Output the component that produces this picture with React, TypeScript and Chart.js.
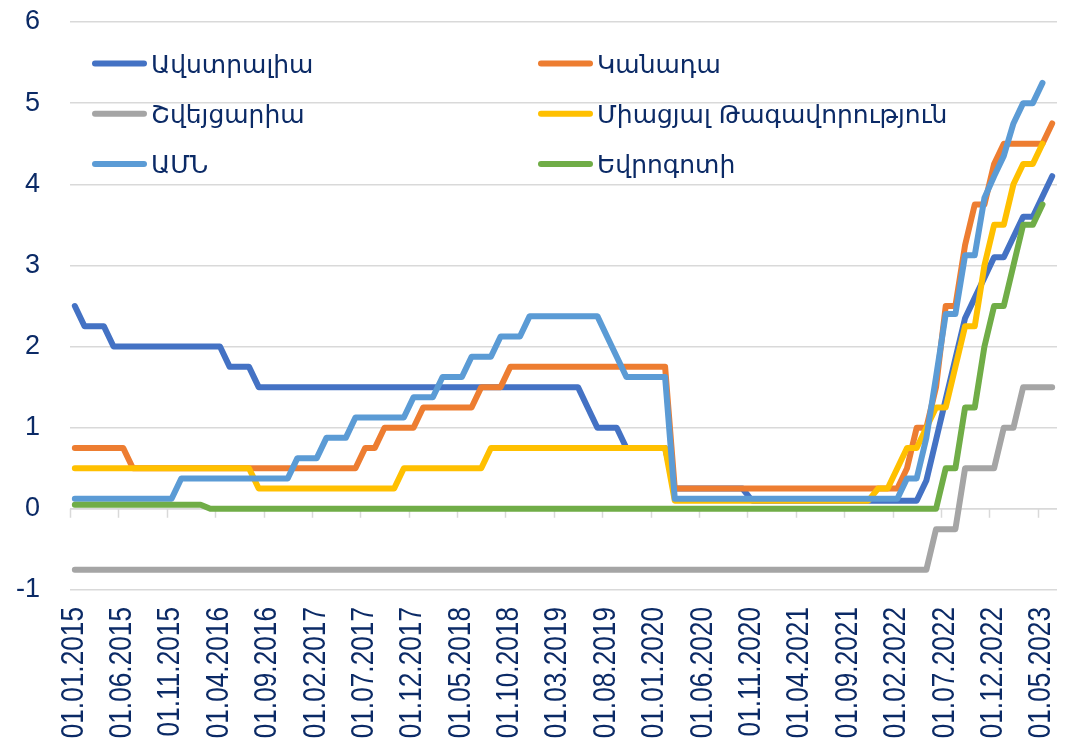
import React, { useEffect, useRef } from 'react';
import { Chart, registerables } from 'chart.js';

Chart.register(...registerables);

const categories = [
  '01.01.2015', '01.02.2015', '01.03.2015', '01.04.2015', '01.05.2015', '01.06.2015', '01.07.2015', '01.08.2015', '01.09.2015', '01.10.2015', '01.11.2015', '01.12.2015',
  '01.01.2016', '01.02.2016', '01.03.2016', '01.04.2016', '01.05.2016', '01.06.2016', '01.07.2016', '01.08.2016', '01.09.2016', '01.10.2016', '01.11.2016', '01.12.2016',
  '01.01.2017', '01.02.2017', '01.03.2017', '01.04.2017', '01.05.2017', '01.06.2017', '01.07.2017', '01.08.2017', '01.09.2017', '01.10.2017', '01.11.2017', '01.12.2017',
  '01.01.2018', '01.02.2018', '01.03.2018', '01.04.2018', '01.05.2018', '01.06.2018', '01.07.2018', '01.08.2018', '01.09.2018', '01.10.2018', '01.11.2018', '01.12.2018',
  '01.01.2019', '01.02.2019', '01.03.2019', '01.04.2019', '01.05.2019', '01.06.2019', '01.07.2019', '01.08.2019', '01.09.2019', '01.10.2019', '01.11.2019', '01.12.2019',
  '01.01.2020', '01.02.2020', '01.03.2020', '01.04.2020', '01.05.2020', '01.06.2020', '01.07.2020', '01.08.2020', '01.09.2020', '01.10.2020', '01.11.2020', '01.12.2020',
  '01.01.2021', '01.02.2021', '01.03.2021', '01.04.2021', '01.05.2021', '01.06.2021', '01.07.2021', '01.08.2021', '01.09.2021', '01.10.2021', '01.11.2021', '01.12.2021',
  '01.01.2022', '01.02.2022', '01.03.2022', '01.04.2022', '01.05.2022', '01.06.2022', '01.07.2022', '01.08.2022', '01.09.2022', '01.10.2022', '01.11.2022', '01.12.2022',
  '01.01.2023', '01.02.2023', '01.03.2023', '01.04.2023', '01.05.2023', '01.06.2023',
];

const australia = [
  2.5, 2.25, 2.25, 2.25, 2, 2, 2, 2, 2, 2, 2, 2,
  2, 2, 2, 2, 1.75, 1.75, 1.75, 1.5, 1.5, 1.5, 1.5, 1.5,
  1.5, 1.5, 1.5, 1.5, 1.5, 1.5, 1.5, 1.5, 1.5, 1.5, 1.5, 1.5,
  1.5, 1.5, 1.5, 1.5, 1.5, 1.5, 1.5, 1.5, 1.5, 1.5, 1.5, 1.5,
  1.5, 1.5, 1.5, 1.5, 1.5, 1.25, 1, 1, 1, 0.75, 0.75, 0.75,
  0.75, 0.75, 0.25, 0.25, 0.25, 0.25, 0.25, 0.25, 0.25, 0.25, 0.1, 0.1,
  0.1, 0.1, 0.1, 0.1, 0.1, 0.1, 0.1, 0.1, 0.1, 0.1, 0.1, 0.1,
  0.1, 0.1, 0.1, 0.1, 0.35, 0.85, 1.35, 1.85, 2.35, 2.6, 2.85, 3.1,
  3.1, 3.35, 3.6, 3.6, 3.85, 4.1,
];

const canada = [
  0.75, 0.75, 0.75, 0.75, 0.75, 0.75, 0.5, 0.5, 0.5, 0.5, 0.5, 0.5,
  0.5, 0.5, 0.5, 0.5, 0.5, 0.5, 0.5, 0.5, 0.5, 0.5, 0.5, 0.5,
  0.5, 0.5, 0.5, 0.5, 0.5, 0.5, 0.75, 0.75, 1, 1, 1, 1,
  1.25, 1.25, 1.25, 1.25, 1.25, 1.25, 1.5, 1.5, 1.5, 1.75, 1.75, 1.75,
  1.75, 1.75, 1.75, 1.75, 1.75, 1.75, 1.75, 1.75, 1.75, 1.75, 1.75, 1.75,
  1.75, 1.75, 0.25, 0.25, 0.25, 0.25, 0.25, 0.25, 0.25, 0.25, 0.25, 0.25,
  0.25, 0.25, 0.25, 0.25, 0.25, 0.25, 0.25, 0.25, 0.25, 0.25, 0.25, 0.25,
  0.25, 0.25, 0.5, 1, 1, 1.5, 2.5, 2.5, 3.25, 3.75, 3.75, 4.25,
  4.5, 4.5, 4.5, 4.5, 4.5, 4.75,
];

const switzerland = [
  -0.75, -0.75, -0.75, -0.75, -0.75, -0.75, -0.75, -0.75, -0.75, -0.75, -0.75, -0.75,
  -0.75, -0.75, -0.75, -0.75, -0.75, -0.75, -0.75, -0.75, -0.75, -0.75, -0.75, -0.75,
  -0.75, -0.75, -0.75, -0.75, -0.75, -0.75, -0.75, -0.75, -0.75, -0.75, -0.75, -0.75,
  -0.75, -0.75, -0.75, -0.75, -0.75, -0.75, -0.75, -0.75, -0.75, -0.75, -0.75, -0.75,
  -0.75, -0.75, -0.75, -0.75, -0.75, -0.75, -0.75, -0.75, -0.75, -0.75, -0.75, -0.75,
  -0.75, -0.75, -0.75, -0.75, -0.75, -0.75, -0.75, -0.75, -0.75, -0.75, -0.75, -0.75,
  -0.75, -0.75, -0.75, -0.75, -0.75, -0.75, -0.75, -0.75, -0.75, -0.75, -0.75, -0.75,
  -0.75, -0.75, -0.75, -0.75, -0.75, -0.25, -0.25, -0.25, 0.5, 0.5, 0.5, 0.5,
  1, 1, 1.5, 1.5, 1.5, 1.5,
];

const unitedKingdom = [
  0.5, 0.5, 0.5, 0.5, 0.5, 0.5, 0.5, 0.5, 0.5, 0.5, 0.5, 0.5,
  0.5, 0.5, 0.5, 0.5, 0.5, 0.5, 0.5, 0.25, 0.25, 0.25, 0.25, 0.25,
  0.25, 0.25, 0.25, 0.25, 0.25, 0.25, 0.25, 0.25, 0.25, 0.25, 0.5, 0.5,
  0.5, 0.5, 0.5, 0.5, 0.5, 0.5, 0.5, 0.75, 0.75, 0.75, 0.75, 0.75,
  0.75, 0.75, 0.75, 0.75, 0.75, 0.75, 0.75, 0.75, 0.75, 0.75, 0.75, 0.75,
  0.75, 0.75, 0.1, 0.1, 0.1, 0.1, 0.1, 0.1, 0.1, 0.1, 0.1, 0.1,
  0.1, 0.1, 0.1, 0.1, 0.1, 0.1, 0.1, 0.1, 0.1, 0.1, 0.1, 0.25,
  0.25, 0.5, 0.75, 0.75, 1, 1.25, 1.25, 1.75, 2.25, 2.25, 3, 3.5,
  3.5, 4, 4.25, 4.25, 4.5, null,
];

const unitedStates = [
  0.125, 0.125, 0.125, 0.125, 0.125, 0.125, 0.125, 0.125, 0.125, 0.125, 0.125, 0.375,
  0.375, 0.375, 0.375, 0.375, 0.375, 0.375, 0.375, 0.375, 0.375, 0.375, 0.375, 0.625,
  0.625, 0.625, 0.875, 0.875, 0.875, 1.125, 1.125, 1.125, 1.125, 1.125, 1.125, 1.375,
  1.375, 1.375, 1.625, 1.625, 1.625, 1.875, 1.875, 1.875, 2.125, 2.125, 2.125, 2.375,
  2.375, 2.375, 2.375, 2.375, 2.375, 2.375, 2.375, 2.125, 1.875, 1.625, 1.625, 1.625,
  1.625, 1.625, 0.125, 0.125, 0.125, 0.125, 0.125, 0.125, 0.125, 0.125, 0.125, 0.125,
  0.125, 0.125, 0.125, 0.125, 0.125, 0.125, 0.125, 0.125, 0.125, 0.125, 0.125, 0.125,
  0.125, 0.125, 0.375, 0.375, 0.875, 1.625, 2.4, 2.4, 3.125, 3.125, 3.83, 4.1,
  4.35, 4.75, 5, 5, 5.25, null,
];

const euroArea = [
  0.05, 0.05, 0.05, 0.05, 0.05, 0.05, 0.05, 0.05, 0.05, 0.05, 0.05, 0.05,
  0.05, 0.05, 0, 0, 0, 0, 0, 0, 0, 0, 0, 0,
  0, 0, 0, 0, 0, 0, 0, 0, 0, 0, 0, 0,
  0, 0, 0, 0, 0, 0, 0, 0, 0, 0, 0, 0,
  0, 0, 0, 0, 0, 0, 0, 0, 0, 0, 0, 0,
  0, 0, 0, 0, 0, 0, 0, 0, 0, 0, 0, 0,
  0, 0, 0, 0, 0, 0, 0, 0, 0, 0, 0, 0,
  0, 0, 0, 0, 0, 0, 0.5, 0.5, 1.25, 1.25, 2, 2.5,
  2.5, 3, 3.5, 3.5, 3.75, null,
];

const seriesNames = ['Ավստրալիա', 'Կանադա', 'Շվեյցարիա', 'Միացյալ Թագավորություն', 'ԱՄՆ', 'Եվրոգոտի'];
const seriesValues = [australia, canada, switzerland, unitedKingdom, unitedStates, euroArea];
const seriesColors = ['#4472C4', '#ED7D31', '#A5A5A5', '#FFC000', '#5B9BD5', '#70AD47'];

const yMin = -1;
const yMax = 6;
const labelStep = 5;

const NAVY = '#0b2a66';
const GRID = '#d9d9d9';

const zeroAxisPlugin = {
  id: 'zeroAxis',
  beforeDatasetsDraw(chart: any) {
    const { ctx, chartArea, scales } = chart;
    const x = scales.x;
    const y = scales.y;
    const y0 = y.getPixelForValue(0);
    const half = (x.getPixelForValue(1) - x.getPixelForValue(0)) / 2;
    ctx.save();
    ctx.strokeStyle = GRID;
    ctx.lineWidth = 1.5;
    ctx.beginPath();
    ctx.moveTo(chartArea.left, y0);
    ctx.lineTo(chartArea.right, y0);
    for (let i = 0; i < categories.length; i += labelStep) {
      const px = Math.round(x.getPixelForValue(i) - half) + 0.5;
      ctx.moveTo(px, y0);
      ctx.lineTo(px, y0 + 9);
    }
    ctx.stroke();
    ctx.restore();
  },
};

const xLabelPlugin = {
  id: 'xLabels',
  afterDraw(chart: any) {
    const { ctx, chartArea, scales } = chart;
    const x = scales.x;
    ctx.save();
    ctx.fillStyle = NAVY;
    ctx.font = "32px 'Liberation Sans', Arial, sans-serif";
    ctx.textAlign = 'right';
    ctx.textBaseline = 'middle';
    for (let i = 0; i < categories.length; i += labelStep) {
      const px = x.getPixelForValue(i) - 1;
      ctx.save();
      ctx.translate(px, chartArea.bottom + 17);
      ctx.rotate(-Math.PI / 2);
      ctx.scale(0.82, 1);
      ctx.fillText(categories[i], 0, 0);
      ctx.restore();
    }
    ctx.restore();
  },
};

const legendPlugin = {
  id: 'customLegend',
  afterDraw(chart: any) {
    const { ctx, chartArea } = chart;
    const colX = [chartArea.left + 25, chartArea.left + 471];
    const rowY = [chartArea.top + 41.5, chartArea.top + 91.8, chartArea.top + 142];
    ctx.save();
    ctx.font = "25px 'DejaVu Sans', sans-serif";
    ctx.textBaseline = 'alphabetic';
    ctx.textAlign = 'left';
    seriesNames.forEach((name, i) => {
      const cx = colX[i % 2];
      const cy = rowY[Math.floor(i / 2)];
      ctx.strokeStyle = seriesColors[i];
      ctx.lineWidth = 6;
      ctx.lineCap = 'round';
      ctx.beginPath();
      ctx.moveTo(cx, cy);
      ctx.lineTo(cx + 49, cy);
      ctx.stroke();
      ctx.fillStyle = NAVY;
      ctx.fillText(name, cx + 56, cy + 9);
    });
    ctx.restore();
  },
};

export default function App() {
  const canvasRef = useRef<HTMLCanvasElement | null>(null);

  useEffect(() => {
    document.body.style.margin = '0';
    const canvas = canvasRef.current;
    if (!canvas) return;
    const chart = new Chart(canvas, {
      type: 'line',
      data: {
        labels: categories,
        datasets: seriesNames.map((name, i) => ({
          label: name,
          data: seriesValues[i],
          borderColor: seriesColors[i],
          backgroundColor: seriesColors[i],
          borderWidth: 6,
          pointRadius: 0,
          pointHoverRadius: 0,
          tension: 0,
          fill: false,
          spanGaps: false,
          borderCapStyle: 'round',
          borderJoinStyle: 'round',
          order: seriesNames.length - i,
        })),
      },
      options: {
        responsive: false,
        animation: false,
        events: [],
        layout: { padding: { top: 22, right: 17, left: 0, bottom: 0 } },
        plugins: {
          legend: { display: false },
          tooltip: { enabled: false },
        },
        scales: {
          x: {
            type: 'category',
            offset: true,
            grid: { display: false, drawTicks: false },
            border: { display: false },
            ticks: { display: false, autoSkip: false },
            afterFit: (scale: any) => {
              scale.height = 161;
              scale.paddingLeft = 0;
              scale.paddingRight = 0;
              scale.paddingTop = 0;
              scale.paddingBottom = 0;
            },
          },
          y: {
            min: yMin,
            max: yMax,
            grid: { color: GRID, lineWidth: 1.5, drawTicks: false },
            border: { display: false },
            ticks: {
              stepSize: 1,
              padding: 30,
              color: NAVY,
              font: { family: "'Liberation Sans', Arial, sans-serif", size: 27 },
            },
            afterFit: (scale: any) => {
              scale.width = 70;
              scale.paddingLeft = 0;
              scale.paddingRight = 0;
              scale.paddingTop = 0;
              scale.paddingBottom = 0;
            },
          },
        },
      },
      plugins: [zeroAxisPlugin, xLabelPlugin, legendPlugin],
    } as any);
    return () => chart.destroy();
  }, []);

  return (
    <div style={{ width: 1074, height: 751, overflow: 'hidden', background: '#ffffff' }}>
      <canvas ref={canvasRef} width={1074} height={751} style={{ display: 'block' }} />
    </div>
  );
}
